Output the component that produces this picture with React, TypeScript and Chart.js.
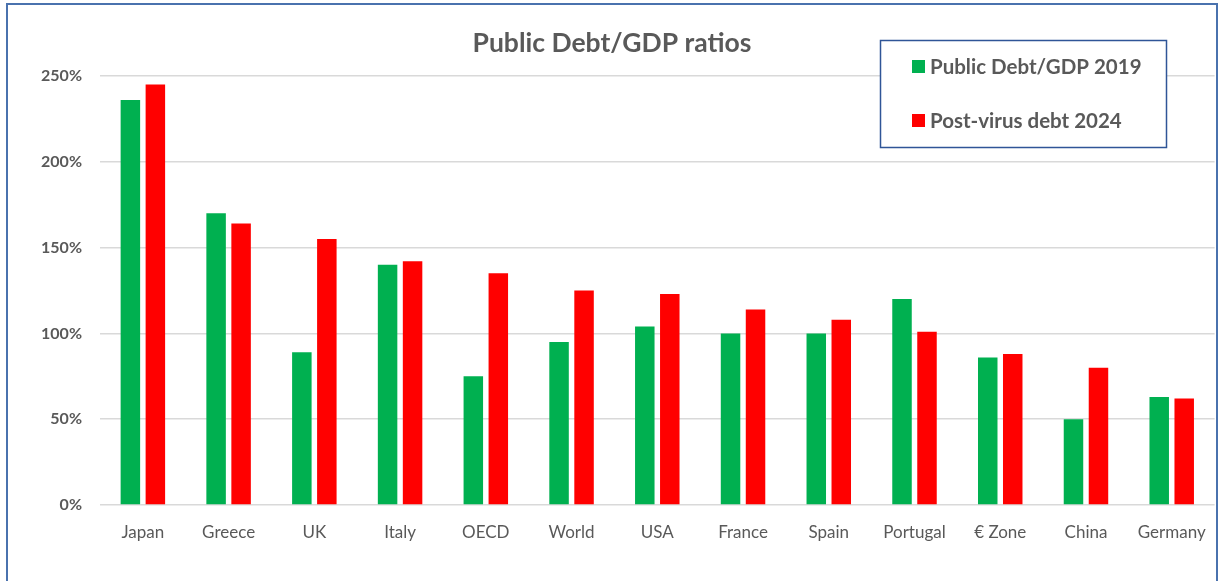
import React, { useEffect, useRef } from "react";
import { Chart, registerables } from "chart.js";

Chart.register(...registerables);

const categories = ["Japan", "Greece", "UK", "Italy", "OECD", "World", "USA", "France", "Spain", "Portugal", "€ Zone", "China", "Germany"];
const debt2019 = [236, 170, 89, 140, 75, 95, 104, 100, 100, 120, 86, 50, 63];
const debt2024 = [245, 164, 155, 142, 135, 125, 123, 114, 108, 101, 88, 80, 62];
const seriesNames = ["Public Debt/GDP 2019", "Post-virus debt 2024"];
const seriesColors = ["#00B050", "#FF0000"];
const titleText = "Public Debt/GDP ratios";

const FONT = "Lato, 'Open Sans', sans-serif";
const TEXT = "#595959";

const overlayPlugin = {
  id: "overlay",
  afterDraw(chart: any) {
    const ctx = chart.ctx;
    ctx.save();
    // title
    ctx.fillStyle = TEXT;
    ctx.font = `bold 26.5px ${FONT}`;
    ctx.textAlign = "center";
    ctx.textBaseline = "alphabetic";
    ctx.fillText(titleText, 612, 52);
    // legend box
    ctx.fillStyle = "#ffffff";
    ctx.fillRect(880, 40, 286, 107);
    ctx.strokeStyle = "#2F5597";
    ctx.lineWidth = 1.5;
    ctx.strokeRect(880.5, 40.5, 286, 107);
    ctx.textAlign = "left";
    ctx.font = `bold 20.5px ${FONT}`;
    chart.data.datasets.forEach((ds: any, i: number) => {
      const y = 60 + i * 54;
      ctx.fillStyle = ds.backgroundColor;
      ctx.fillRect(912, y, 13, 13);
      ctx.fillStyle = TEXT;
      ctx.fillText(ds.label, 930, y + 13.5);
    });
    ctx.restore();
  },
};

export default function App() {
  const ref = useRef<HTMLCanvasElement | null>(null);
  useEffect(() => {
    if (!ref.current) return;
    const chart = new Chart(ref.current, {
      type: "bar",
      data: {
        labels: categories,
        datasets: [
          { label: seriesNames[0], data: debt2019, backgroundColor: seriesColors[0] },
          { label: seriesNames[1], data: debt2024, backgroundColor: seriesColors[1] },
        ],
      },
      options: {
        animation: false,
        responsive: false,
        maintainAspectRatio: false,
        devicePixelRatio: 1,
        layout: { padding: { left: 0, right: 8, top: 76, bottom: 0 } },
        datasets: { bar: { categoryPercentage: 0.583, barPercentage: 0.78 } },
        plugins: { legend: { display: false }, title: { display: false }, tooltip: { enabled: false } },
        scales: {
          x: {
            grid: { display: false, drawTicks: false },
            border: { display: false },
            ticks: { color: TEXT, font: { family: FONT, size: 17 }, padding: 17, maxRotation: 0 },
            afterFit: (s: any) => { s.height = 76; },
          },
          y: {
            min: 0,
            max: 250,
            grid: { color: "#D9D9D9", lineWidth: 1.5, drawTicks: false },
            border: { display: false },
            ticks: {
              stepSize: 50,
              color: TEXT,
              font: { family: FONT, size: 16, weight: "bold" },
              padding: 18,
              callback: (v: any) => v + "%",
            },
            afterFit: (s: any) => { s.width = 100; },
          },
        },
      },
      plugins: [overlayPlugin],
    } as any);
    return () => chart.destroy();
  }, []);
  return (
    <div style={{ position: "absolute", left: 0, top: 0, width: 1223, height: 581, overflow: "hidden", background: "#fff" }}>
      <canvas ref={ref} width={1223} height={581} style={{ position: "absolute", left: 0, top: 0, width: 1223, height: 581 }} />
      <div style={{ position: "absolute", left: 6, top: 3, width: 1208, height: 640, border: "2px solid #4A72AE", pointerEvents: "none" }} />
    </div>
  );
}
